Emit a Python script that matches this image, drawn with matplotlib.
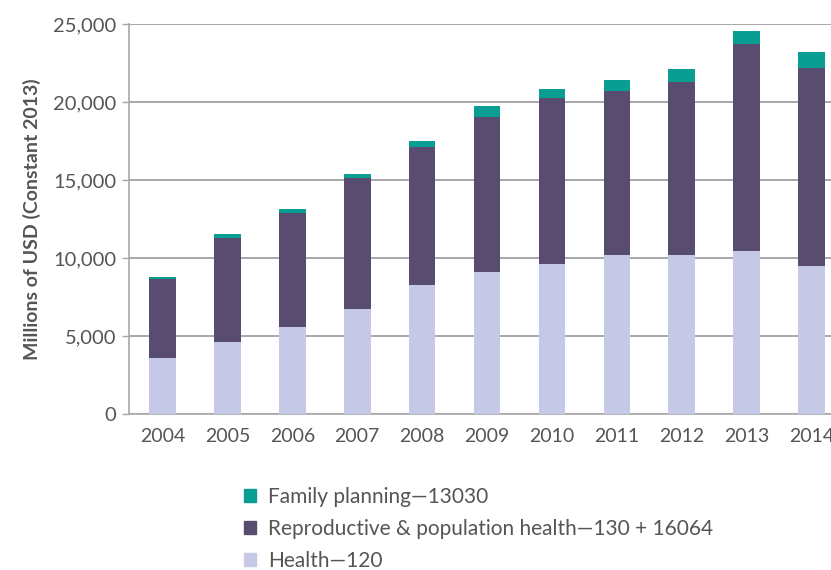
import matplotlib.pyplot as plt
from matplotlib.patches import Patch

years = ['2004', '2005', '2006', '2007', '2008', '2009', '2010', '2011', '2012', '2013', '2014']
health = [3590, 4620, 5580, 6730, 8270, 9100, 9620, 10190, 10190, 10450, 9490]
repro = [5060, 6660, 7300, 8400, 8850, 9940, 10640, 10510, 11090, 13270, 12690]
family = [130, 260, 260, 260, 390, 700, 580, 700, 830, 830, 1030]

c_fp = '#0a9e93'
c_rep = '#584d70'
c_health = '#c5c8e6'
txt = '#555555'
grid_c = '#a8a8a8'

plt.rcParams['font.family'] = ['Lato', 'DejaVu Sans']

fig = plt.figure(figsize=(8.31, 5.70), dpi=100)
ax = fig.add_axes([0.155, 0.2737, 0.845, 0.6843])

x = range(len(years))
w = 0.41
ax.bar(x, health, w, color=c_health, zorder=3)
bot2 = [h for h in health]
ax.bar(x, repro, w, bottom=bot2, color=c_rep, zorder=3)
bot3 = [h + r for h, r in zip(health, repro)]
ax.bar(x, family, w, bottom=bot3, color=c_fp, zorder=3)

ax.set_ylim(0, 25000)
ax.set_xlim(-0.52, 10.3)
ax.set_yticks(range(0, 25001, 5000))
ax.set_yticklabels(['0', '5,000', '10,000', '15,000', '20,000', '25,000'])
ax.set_xticks(list(x))
ax.set_xticklabels(years)
ax.yaxis.grid(True, color=grid_c, lw=1.4, zorder=0)
ax.set_axisbelow(True)

for s in ['top', 'right']:
    ax.spines[s].set_visible(False)
for s in ['left', 'bottom']:
    ax.spines[s].set_color(grid_c)
    ax.spines[s].set_linewidth(1.2)
ax.tick_params(axis='y', colors=grid_c, length=5, width=1, labelsize=14.5, labelcolor=txt, pad=4)
ax.tick_params(axis='x', length=0, labelsize=14, labelcolor=txt, pad=10)

ax.set_ylabel('Millions of USD (Constant 2013)', fontsize=14, fontweight='bold', color=txt, labelpad=9)

handles = [Patch(color=c_fp), Patch(color=c_rep), Patch(color=c_health)]
labels = ['Family planning\u201413030',
          'Reproductive & population health\u2014130 + 16064',
          'Health\u2014120']
fig.legend(handles, labels, loc='lower left', bbox_to_anchor=(0.271, -0.035), frameon=False,
           fontsize=15, labelcolor=txt, handlelength=0.6, handleheight=0.6,
           handletextpad=0.55, labelspacing=0.58)

fig.savefig('out.png', dpi=100)
